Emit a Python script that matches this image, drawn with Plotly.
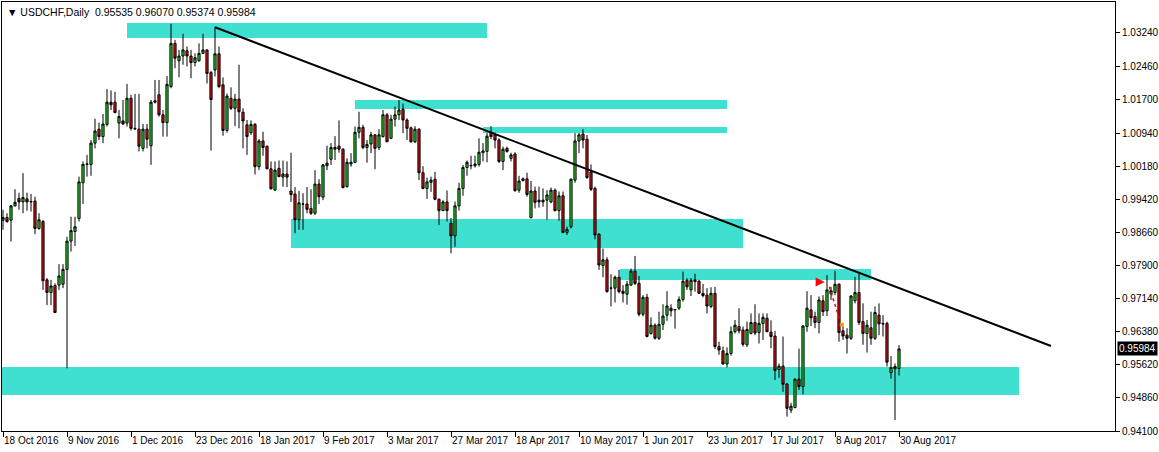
import plotly.graph_objects as go
import pandas as pd

# ---------------- data (USDCHF daily) ----------------
open_ = [
    0.9894, 0.9900, 0.9894, 0.9927, 0.9944, 0.9936, 0.9943, 0.9936, 0.9938, 0.9875,
    0.9891, 0.9757, 0.9728, 0.9744, 0.9745, 0.9747, 0.9781, 0.9846, 0.9868, 0.9898,
    0.9980, 1.0022, 1.0022, 1.0071, 1.0103, 1.0086, 1.0114, 1.0165, 1.0165, 1.0117,
    1.0122, 1.0117, 1.0174, 1.0105, 1.0103, 1.0059, 1.0103, 1.0065, 1.0165, 1.0182,
    1.0136, 1.0118, 1.0201, 1.0300, 1.0260, 1.0271, 1.0283, 1.0271, 1.0256, 1.0260,
    1.0277, 1.0285, 1.0233, 1.0239, 1.0276, 1.0205, 1.0100, 1.0174, 1.0151, 1.0172,
    1.0142, 1.0113, 1.0095, 1.0114, 1.0017, 1.0076, 1.0064, 1.0012, 0.9963, 1.0013,
    0.9993, 1.0000, 0.9961, 0.9954, 0.9895, 0.9931, 0.9931, 0.9921, 0.9910, 0.9977,
    0.9947, 1.0019, 1.0034, 1.0057, 1.0064, 1.0057, 0.9971, 1.0023, 1.0027, 1.0096,
    1.0107, 1.0061, 1.0069, 1.0090, 1.0061, 1.0086, 1.0136, 1.0082, 1.0126, 1.0136,
    1.0149, 1.0124, 1.0106, 1.0074, 1.0103, 1.0003, 0.9967, 0.9981, 0.9988, 0.9942,
    0.9916, 0.9936, 0.9887, 0.9858, 0.9927, 0.9967, 1.0015, 1.0020, 1.0019, 1.0022,
    1.0049, 1.0052, 1.0096, 1.0090, 1.0078, 1.0029, 1.0059, 1.0036, 1.0046, 0.9963,
    0.9989, 0.9989, 0.9900, 0.9961, 0.9940, 0.9936, 0.9940, 0.9936, 0.9963, 0.9916,
    0.9950, 0.9866, 0.9879, 0.9986, 1.0076, 1.0092, 1.0080, 1.0005, 0.9967, 0.9862,
    0.9790, 0.9803, 0.9738, 0.9738, 0.9763, 0.9731, 0.9724, 0.9745, 0.9777, 0.9749,
    0.9678, 0.9717, 0.9634, 0.9653, 0.9623, 0.9655, 0.9676, 0.9692, 0.9688, 0.9692,
    0.9712, 0.9756, 0.9734, 0.9757, 0.9754, 0.9726, 0.9722, 0.9696, 0.9726, 0.9604,
    0.9594, 0.9564, 0.9588, 0.9638, 0.9650, 0.9642, 0.9608, 0.9634, 0.9659, 0.9636,
    0.9657, 0.9669, 0.9637, 0.9628, 0.9551, 0.9559, 0.9518, 0.9458, 0.9464, 0.9529,
    0.9512, 0.9650, 0.9688, 0.9673, 0.9659, 0.9709, 0.9686, 0.9725, 0.9728, 0.9747,
    0.9640, 0.9630, 0.9623, 0.9709, 0.9728, 0.9661, 0.9634, 0.9647, 0.9623, 0.9676,
    0.9657, 0.9657, 0.9544, 0.9553, 0.95535,
]
high = [
    0.9918, 0.9910, 0.9929, 0.9965, 0.9957, 1.0002, 0.9957, 0.9954, 0.9948, 0.9910,
    0.9895, 0.9761, 0.9757, 0.9749, 0.9793, 0.9793, 0.9856, 0.9902, 0.9902, 0.9994,
    1.0029, 1.0044, 1.0078, 1.0127, 1.0118, 1.0138, 1.0195, 1.0192, 1.0189, 1.0147,
    1.0170, 1.0207, 1.0182, 1.0184, 1.0184, 1.0115, 1.0115, 1.0170, 1.0216, 1.0216,
    1.0147, 1.0225, 1.0345, 1.0308, 1.0285, 1.0322, 1.0293, 1.0285, 1.0277, 1.0300,
    1.0322, 1.0286, 1.0237, 1.0337, 1.0293, 1.0222, 1.0185, 1.0199, 1.0184, 1.0251,
    1.0151, 1.0124, 1.0123, 1.0117, 1.0080, 1.0097, 1.0065, 1.0029, 1.0029, 1.0031,
    1.0031, 1.0029, 1.0049, 0.9970, 0.9961, 0.9956, 0.9970, 0.9965, 1.0009, 0.9988,
    1.0023, 1.0065, 1.0071, 1.0087, 1.0123, 1.0059, 1.0036, 1.0048, 1.0109, 1.0143,
    1.0113, 1.0078, 1.0097, 1.0091, 1.0103, 1.0147, 1.0140, 1.0136, 1.0155, 1.0170,
    1.0162, 1.0128, 1.0109, 1.0110, 1.0105, 1.0018, 0.9992, 0.9994, 1.0005, 0.9944,
    0.9940, 0.9962, 0.9899, 0.9937, 0.9980, 1.0021, 1.0031, 1.0042, 1.0042, 1.0082,
    1.0071, 1.0095, 1.0110, 1.0095, 1.0082, 1.0063, 1.0063, 1.0049, 1.0050, 0.9996,
    0.9992, 1.0003, 0.9984, 0.9971, 0.9971, 0.9967, 0.9963, 0.9969, 0.9967, 0.9960,
    0.9960, 0.9879, 0.9990, 1.0094, 1.0094, 1.0103, 1.0090, 1.0022, 0.9971, 0.9864,
    0.9829, 0.9809, 0.9770, 0.9767, 0.9780, 0.9745, 0.9755, 0.9783, 0.9812, 0.9766,
    0.9722, 0.9725, 0.9671, 0.9657, 0.9684, 0.9701, 0.9731, 0.9701, 0.9690, 0.9719,
    0.9776, 0.9761, 0.9761, 0.9771, 0.9757, 0.9748, 0.9738, 0.9740, 0.9741, 0.9615,
    0.9604, 0.9602, 0.9650, 0.9665, 0.9692, 0.9650, 0.9661, 0.9680, 0.9701, 0.9680,
    0.9680, 0.9680, 0.9664, 0.9640, 0.9565, 0.9627, 0.9520, 0.9475, 0.9531, 0.9599,
    0.9653, 0.9731, 0.9722, 0.9684, 0.9719, 0.9722, 0.9768, 0.9741, 0.9778, 0.9749,
    0.9650, 0.9646, 0.9722, 0.9764, 0.9772, 0.9703, 0.9665, 0.9684, 0.9696, 0.9703,
    0.9676, 0.9661, 0.9582, 0.9565, 0.96070,
]
low = [
    0.9872, 0.9888, 0.9845, 0.9925, 0.9918, 0.9910, 0.9916, 0.9914, 0.9862, 0.9872,
    0.9734, 0.9699, 0.9699, 0.9681, 0.9734, 0.9738, 0.9554, 0.9822, 0.9835, 0.9891,
    0.9931, 0.9994, 0.9996, 1.0059, 1.0078, 1.0071, 1.0109, 1.0147, 1.0140, 1.0082,
    1.0113, 1.0109, 1.0100, 1.0101, 1.0052, 1.0052, 1.0059, 1.0021, 1.0162, 1.0132,
    1.0086, 1.0086, 1.0197, 1.0243, 1.0222, 1.0251, 1.0247, 1.0220, 1.0247, 1.0258,
    1.0276, 1.0208, 1.0054, 1.0224, 1.0197, 1.0088, 1.0095, 1.0147, 1.0110, 1.0105,
    1.0059, 1.0044, 1.0090, 0.9999, 1.0009, 1.0042, 1.0011, 0.9965, 0.9962, 0.9993,
    0.9971, 0.9970, 0.9936, 0.9864, 0.9872, 0.9872, 0.9910, 0.9906, 0.9906, 0.9931,
    0.9940, 1.0009, 1.0021, 1.0032, 1.0049, 0.9967, 0.9969, 1.0017, 1.0025, 1.0082,
    1.0057, 1.0026, 1.0048, 1.0011, 1.0055, 1.0084, 1.0074, 1.0080, 1.0109, 1.0124,
    1.0094, 1.0078, 1.0072, 1.0071, 0.9986, 0.9965, 0.9943, 0.9959, 0.9940, 0.9883,
    0.9915, 0.9891, 0.9818, 0.9833, 0.9916, 0.9950, 0.9996, 1.0011, 1.0015, 1.0017,
    1.0029, 1.0027, 1.0080, 1.0059, 1.0025, 1.0009, 1.0049, 1.0029, 0.9959, 0.9957,
    0.9983, 0.9948, 0.9898, 0.9921, 0.9923, 0.9925, 0.9895, 0.9933, 0.9914, 0.9893,
    0.9864, 0.9860, 0.9875, 0.9980, 1.0048, 1.0059, 0.9989, 0.9961, 0.9850, 0.9780,
    0.9763, 0.9728, 0.9696, 0.9705, 0.9726, 0.9705, 0.9700, 0.9743, 0.9745, 0.9673,
    0.9673, 0.9625, 0.9631, 0.9620, 0.9619, 0.9642, 0.9663, 0.9673, 0.9645, 0.9688,
    0.9707, 0.9734, 0.9720, 0.9730, 0.9725, 0.9717, 0.9680, 0.9692, 0.9598, 0.9585,
    0.9562, 0.9556, 0.9583, 0.9634, 0.9634, 0.9604, 0.9603, 0.9632, 0.9630, 0.9611,
    0.9619, 0.9637, 0.9600, 0.9527, 0.9532, 0.9500, 0.9443, 0.9451, 0.9462, 0.9504,
    0.9494, 0.9638, 0.9651, 0.9646, 0.9634, 0.9674, 0.9674, 0.9711, 0.9722, 0.9615,
    0.9619, 0.9588, 0.9619, 0.9703, 0.9653, 0.9608, 0.9590, 0.9608, 0.9619, 0.9630,
    0.9627, 0.9558, 0.9530, 0.9435, 0.95374,
]
close = [
    0.9900, 0.9891, 0.9927, 0.9935, 0.9936, 0.9946, 0.9936, 0.9937, 0.9875, 0.9895,
    0.9755, 0.9728, 0.9743, 0.9682, 0.9766, 0.9781, 0.9846, 0.9870, 0.9879, 0.9982,
    1.0022, 1.0023, 1.0071, 1.0099, 1.0086, 1.0115, 1.0165, 1.0159, 1.0141, 1.0132,
    1.0115, 1.0174, 1.0105, 1.0104, 1.0064, 1.0103, 1.0080, 1.0165, 1.0168, 1.0136,
    1.0118, 1.0206, 1.0300, 1.0266, 1.0271, 1.0285, 1.0271, 1.0256, 1.0267, 1.0277,
    1.0285, 1.0231, 1.0171, 1.0276, 1.0201, 1.0100, 1.0179, 1.0151, 1.0172, 1.0143,
    1.0122, 1.0086, 1.0114, 1.0017, 1.0076, 1.0061, 1.0012, 0.9966, 1.0009, 0.9994,
    1.0000, 0.9993, 0.9953, 0.9895, 0.9934, 0.9931, 0.9919, 0.9910, 0.9977, 0.9948,
    1.0021, 1.0025, 1.0061, 1.0061, 1.0057, 0.9969, 1.0027, 1.0027, 1.0096, 1.0107,
    1.0061, 1.0068, 1.0090, 1.0059, 1.0090, 1.0136, 1.0074, 1.0126, 1.0136, 1.0147,
    1.0124, 1.0105, 1.0074, 1.0103, 1.0003, 0.9967, 0.9982, 0.9986, 0.9942, 0.9916,
    0.9936, 0.9916, 0.9858, 0.9927, 0.9967, 1.0015, 1.0027, 1.0019, 1.0023, 1.0050,
    1.0053, 1.0087, 1.0086, 1.0078, 1.0029, 1.0057, 1.0052, 1.0044, 0.9962, 0.9984,
    0.9985, 0.9953, 0.9961, 0.9935, 0.9936, 0.9940, 0.9952, 0.9963, 0.9916, 0.9950,
    0.9866, 0.9873, 0.9988, 1.0076, 1.0090, 1.0078, 0.9992, 0.9965, 0.9860, 0.9791,
    0.9803, 0.9730, 0.9738, 0.9763, 0.9730, 0.9726, 0.9747, 0.9777, 0.9749, 0.9678,
    0.9717, 0.9627, 0.9653, 0.9623, 0.9655, 0.9674, 0.9697, 0.9686, 0.9689, 0.9712,
    0.9754, 0.9741, 0.9756, 0.9753, 0.9726, 0.9721, 0.9697, 0.9726, 0.9604, 0.9596,
    0.9564, 0.9588, 0.9638, 0.9653, 0.9640, 0.9609, 0.9643, 0.9659, 0.9635, 0.9657,
    0.9671, 0.9638, 0.9627, 0.9549, 0.9559, 0.9517, 0.9462, 0.9467, 0.9529, 0.9512,
    0.9651, 0.9692, 0.9670, 0.9659, 0.9711, 0.9684, 0.9734, 0.9732, 0.9747, 0.9636,
    0.9628, 0.9623, 0.9720, 0.9728, 0.9659, 0.9634, 0.9653, 0.9623, 0.9682, 0.9656,
    0.9656, 0.9568, 0.9556, 0.9558, 0.95984,
]

# trading days shown (weekdays, no bars on 26 Dec 2016 and 2 Jan 2017)
holidays = pd.to_datetime(["2016-12-26", "2017-01-02"])
dates = [d for d in pd.bdate_range("2016-10-18", "2017-08-30") if d not in holidays]
bar_index = list(range(len(close)))
hover_dates = [d.strftime("%d %b %Y") for d in dates][: len(close)]

x_tick_labels = ["18 Oct 2016", "9 Nov 2016", "1 Dec 2016", "23 Dec 2016", "18 Jan 2017",
                 "9 Feb 2017", "3 Mar 2017", "27 Mar 2017", "18 Apr 2017", "10 May 2017",
                 "1 Jun 2017", "23 Jun 2017", "17 Jul 2017", "8 Aug 2017", "30 Aug 2017"]
bars_between_labels = 16
x_tick_bars = [k * bars_between_labels for k in range(len(x_tick_labels))]

y_tick_labels = ["0.94100", "0.94860", "0.95620", "0.96380", "0.97140", "0.97900", "0.98660",
                 "0.99420", "1.00180", "1.00940", "1.01700", "1.02460", "1.03240"]
y_tick_values = [float(t) for t in y_tick_labels]

# supply / demand zones: (first bar, last bar, upper price, lower price)
zones = [
    (31, 121, 1.0347, 1.03125),
    (88, 181, 1.01701, 1.01495),
    (120, 181, 1.01081, 1.00943),
    (72, 185, 0.98969, 0.98303),
    (154.25, 217, 0.97820, 0.97568),
    (-0.25, 254, 0.95570, 0.94927),
]
# descending trend line: (bar, price) -> (bar, price)
trend_start = (53, 1.0337)
trend_end = (262, 0.96052)

# trade history marks
trade_open = (205.4, 0.9752)
trade_path_bars = [206.6, 209.2]
trade_path_prices = [0.9741, 0.9664]
trade_close = (209.7, 0.9654)

symbol = "USDCHF,Daily"
last_ohlc = ["0.95535", "0.96070", "0.95374", "0.95984"]
last_price = 0.95984

y_min, y_max = 0.941, 1.0395
x_min, x_max = -0.25, 278

FONT = "Liberation Sans, Arial, sans-serif"
ZONE_COLOR = "#40e0d0"

fig = go.Figure()

for b0, b1, top, bottom in zones:
    fig.add_shape(type="rect", xref="x", yref="y", x0=b0, x1=b1, y0=bottom, y1=top,
                  fillcolor=ZONE_COLOR, line=dict(width=0), layer="below")

fig.add_trace(go.Candlestick(
    x=bar_index, open=open_, high=high, low=low, close=close,
    text=hover_dates, whiskerwidth=0,
    increasing=dict(line=dict(color="black", width=1), fillcolor="#22e022"),
    decreasing=dict(line=dict(color="black", width=1), fillcolor="#e01010"),
    showlegend=False,
))

fig.add_shape(type="line", xref="x", yref="y", x0=trend_start[0], y0=trend_start[1],
              x1=trend_end[0], y1=trend_end[1], line=dict(color="black", width=2))

fig.add_trace(go.Scatter(x=trade_path_bars, y=trade_path_prices, mode="lines",
                         line=dict(color="#ff0000", width=1.5, dash="dot"),
                         showlegend=False, hoverinfo="skip"))
fig.add_trace(go.Scatter(x=[trade_open[0]], y=[trade_open[1]], mode="markers",
                         marker=dict(symbol="arrow-right", size=9, color="#ff0000",
                                     line=dict(width=0)),
                         showlegend=False, hoverinfo="skip"))
fig.add_trace(go.Scatter(x=[trade_close[0]], y=[trade_close[1]], mode="markers",
                         marker=dict(symbol="square", size=4, color="#e8a000",
                                     line=dict(width=0)),
                         showlegend=False, hoverinfo="skip"))

# header text
fig.add_annotation(xref="paper", yref="paper", x=0, y=1, xanchor="left", yanchor="top",
                   xshift=3, yshift=-2, showarrow=False,
                   text="▼ " + symbol + "  " + " ".join(last_ohlc),
                   font=dict(family=FONT, size=10.5, color="black"))
# current price tag
fig.add_annotation(xref="paper", yref="y", x=1, y=last_price, xanchor="left", yanchor="middle",
                   xshift=2, showarrow=False, text=f"{last_price:.5f}", bgcolor="black",
                   borderpad=1, font=dict(family=FONT, size=10, color="white"))

fig.update_layout(
    width=1159, height=452, autosize=False,
    margin=dict(l=2, r=44, t=2, b=21, autoexpand=False),
    paper_bgcolor="white", plot_bgcolor="white",
    showlegend=False, boxgap=0.22,
    font=dict(family=FONT, size=10, color="black"),
    xaxis=dict(range=[x_min, x_max], tickvals=x_tick_bars, ticktext=x_tick_labels,
               ticks="outside", ticklen=5, tickcolor="black", tickwidth=1,
               ticklabelposition="outside right", tickangle=0, automargin=False,
               showgrid=False, zeroline=False, showline=True, mirror=True,
               linecolor="black", linewidth=1, rangeslider=dict(visible=False),
               tickfont=dict(family=FONT, size=10, color="black")),
    yaxis=dict(range=[y_min, y_max], side="right", tickvals=y_tick_values,
               ticktext=y_tick_labels, ticks="outside", ticklen=4, tickcolor="black",
               automargin=False,
               showgrid=False, zeroline=False, showline=True, mirror=True,
               linecolor="black", linewidth=1,
               tickfont=dict(family=FONT, size=10, color="black")),
)

fig.write_html("out.html", config={"displayModeBar": False},
               post_script="document.body.style.margin='0';document.body.style.overflow='hidden';")
